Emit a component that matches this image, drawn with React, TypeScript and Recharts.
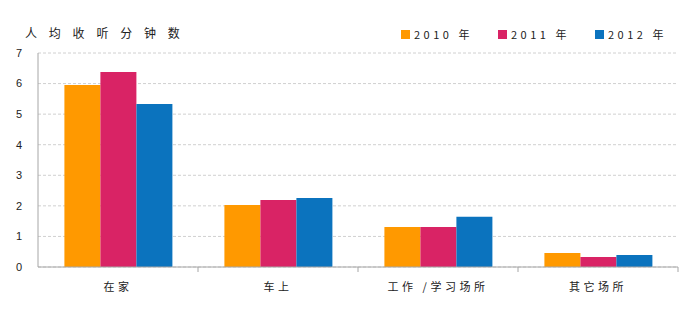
import React from 'react';
import { BarChart, Bar, XAxis, YAxis, CartesianGrid } from 'recharts';

const places = ['在家', '车上', '工作 /学习场所', '其它场所'];
const years = ['2010 年', '2011 年', '2012 年'];
const colors = ['#FF9900', '#D92365', '#0B73BE'];
const values2010 = [5.95, 2.03, 1.31, 0.46];
const values2011 = [6.38, 2.19, 1.31, 0.33];
const values2012 = [5.33, 2.26, 1.64, 0.39];
const yTicks = [0, 1, 2, 3, 4, 5, 6, 7];

const data = places.map((place, i) => ({
  place,
  y2010: values2010[i],
  y2011: values2011[i],
  y2012: values2012[i],
}));

const keys = ['y2010', 'y2011', 'y2012'];

const numFont = '"Liberation Sans", Arial, sans-serif';
const cjkFont = '"Noto Sans CJK SC", "Liberation Sans", sans-serif';

const App = () => {
  return (
    <div style={{ position: 'absolute', left: 0, top: 0, width: 700, height: 318, background: '#fff' }}>
      <div
        style={{
          position: 'absolute',
          left: 25,
          top: 24,
          fontFamily: cjkFont,
          fontSize: 12,
          letterSpacing: 11.8,
          color: '#222',
          whiteSpace: 'nowrap',
        }}
      >
        人均收听分钟数
      </div>
      {/* legend */}
      <div
        style={{
          position: 'absolute',
          left: 401,
          top: 26,
          display: 'flex',
          fontFamily: cjkFont,
          fontSize: 11,
          color: '#222',
          whiteSpace: 'nowrap',
        }}
      >
        {years.map((y, i) => (
          <div key={y} style={{ display: 'flex', alignItems: 'center', width: 97 }}>
            <span style={{ width: 9, height: 9, background: colors[i], display: 'inline-block', marginRight: 4 }} />
            <span style={{ letterSpacing: 3.5 }}>{y}</span>
          </div>
        ))}
      </div>
      <BarChart
        width={700}
        height={318}
        data={data}
        margin={{ top: 53, right: 22, bottom: 21, left: 8 }}
        barCategoryGap="16.5%"
        barGap={0}
      >
        <CartesianGrid horizontal vertical={false} stroke="#D0D0D0" strokeDasharray="3 2" />
        <XAxis
          dataKey="place"
          height={30}
          stroke="#A6A6A6"
          tickLine={false}
          tick={{ fontFamily: cjkFont, fontSize: 11, fill: '#222', letterSpacing: 3.5 }}
          tickMargin={10}
        />
        <YAxis
          width={30}
          domain={[0, 7]}
          ticks={yTicks}
          stroke="#A6A6A6"
          tickLine={false}
          tick={{ fontFamily: numFont, fontSize: 11, fill: '#222' }}
          tickMargin={10}
        />
        {keys.map((k, i) => (
          <Bar key={k} dataKey={k} name={years[i]} fill={colors[i]} isAnimationActive={false} />
        ))}
      </BarChart>
      <svg style={{ position: 'absolute', left: 0, top: 0, pointerEvents: 'none' }} width={700} height={318}>
        {[198, 358, 518, 678].map((x) => (
          <line key={x} x1={x} x2={x} y1={267} y2={272} stroke="#A6A6A6" />
        ))}
      </svg>
    </div>
  );
};

export default App;
